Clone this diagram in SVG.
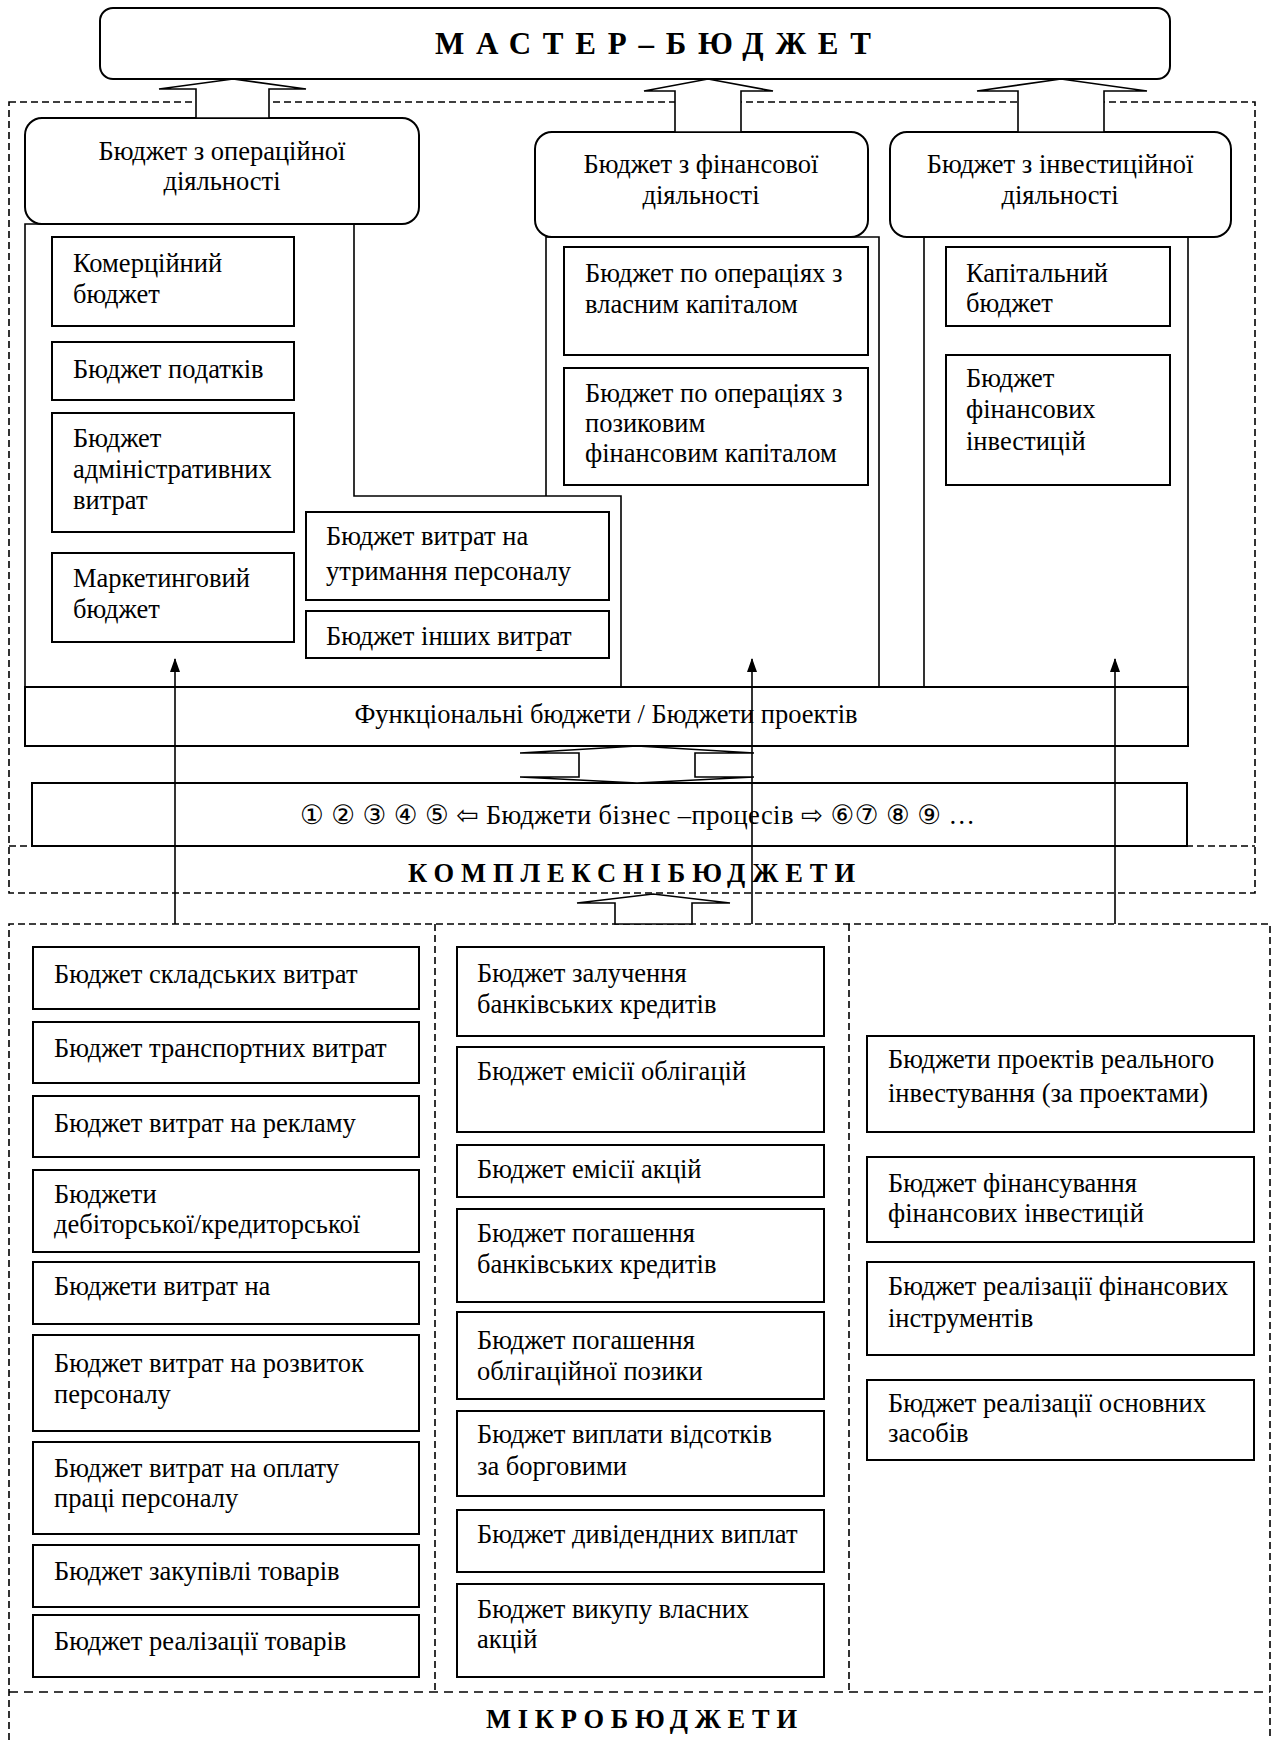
<svg xmlns="http://www.w3.org/2000/svg" width="1271" height="1740" viewBox="0 0 1271 1740">
<defs>
<style>
.box{fill:#fff;stroke:#000;stroke-width:2}
.sec{fill:none;stroke:#000;stroke-width:1.6}
.dash{fill:none;stroke:#000;stroke-width:1.6;stroke-dasharray:7 4}
.dash2{fill:none;stroke:#000;stroke-width:1.6;stroke-dasharray:9 6}
.harrow{fill:#fff;stroke:#000;stroke-width:1.6;stroke-linejoin:miter}
.thin{fill:none;stroke:#000;stroke-width:1.6}
text{font-family:"Liberation Serif","Times New Roman","DejaVu Serif",serif;font-size:26.5px;fill:#000}
.b{font-weight:bold}
.t{font-size:31px}
.c{text-anchor:middle}
.bp{font-family:"Liberation Serif","DejaVu Sans","Noto Sans",serif}
</style>
<marker id="ah" viewBox="0 0 14 10" refX="13" refY="5" markerWidth="14" markerHeight="10" markerUnits="userSpaceOnUse" orient="auto">
<path d="M0,0 L14,5 L0,10 z" fill="#000"/>
</marker>
</defs>
<rect width="1271" height="1740" fill="#fff"/>

<!-- containers -->
<g id="complex-container">
<rect class="dash" x="9" y="102" width="1246" height="791"/>
<line class="dash" x1="9" y1="846" x2="1255" y2="846"/>
<text class="b" x="408" y="882" textLength="447" lengthAdjust="spacing">КОМПЛЕКСНІБЮДЖЕТИ</text>
</g>
<g id="micro-container">
<path class="dash" d="M9,1740 V924 H1270 V1740"/>
<line class="dash" x1="435" y1="924" x2="435" y2="1692"/>
<line class="dash" x1="849" y1="924" x2="849" y2="1692"/>
<line class="dash2" x1="9" y1="1692" x2="1270" y2="1692"/>
<text class="b" x="486" y="1728" textLength="311" lengthAdjust="spacing">МІКРОБЮДЖЕТИ</text>
</g>

<!-- section frames -->
<g id="sections">
<path class="sec" d="M25,687 V224 H354 V496 H621 V687"/>
<path class="sec" d="M546,496 V237 H879 V687"/>
<path class="sec" d="M924,687 V237 H1188 V687"/>
</g>

<g id="master">
<rect class="box" x="100" y="8" width="1070" height="71" rx="13"/>
<text class="b t" x="435" y="54" textLength="436" lengthAdjust="spacing">МАСТЕР–БЮДЖЕТ</text>
</g>

<g id="op-budget">
<rect class="box" x="25" y="118" width="394" height="106" rx="17"/>
<text class="c" x="222" y="160">Бюджет з операційної</text>
<text class="c" x="222" y="190">діяльності</text>
</g>
<g id="fin-budget">
<rect class="box" x="535" y="132" width="333" height="105" rx="17"/>
<text class="c" x="701" y="173">Бюджет з фінансової</text>
<text class="c" x="701" y="204">діяльності</text>
</g>
<g id="inv-budget">
<rect class="box" x="890" y="132" width="341" height="105" rx="17"/>
<text class="c" x="1060" y="173">Бюджет з інвестиційної</text>
<text class="c" x="1060" y="204">діяльності</text>
</g>

<g id="commercial"><rect class="box" x="52" y="237" width="242" height="89"/><text x="73" y="272">Комерційний</text><text x="73" y="303">бюджет</text></g>
<g id="tax"><rect class="box" x="52" y="342" width="242" height="58"/><text x="73" y="378">Бюджет податків</text></g>
<g id="admin"><rect class="box" x="52" y="413" width="242" height="119"/><text x="73" y="447">Бюджет</text><text x="73" y="478">адміністративних</text><text x="73" y="509">витрат</text></g>
<g id="marketing"><rect class="box" x="52" y="553" width="242" height="89"/><text x="73" y="587">Маркетинговий</text><text x="73" y="618">бюджет</text></g>
<g id="staff"><rect class="box" x="306" y="512" width="303" height="88"/><text x="326" y="545">Бюджет витрат на</text><text x="326" y="580">утримання персоналу</text></g>
<g id="other"><rect class="box" x="306" y="611" width="303" height="47"/><text x="326" y="645">Бюджет інших витрат</text></g>

<g id="equity"><rect class="box" x="564" y="247" width="304" height="108"/><text x="585" y="282">Бюджет по операціях з</text><text x="585" y="313">власним капіталом</text></g>
<g id="debt"><rect class="box" x="564" y="368" width="304" height="117"/><text x="585" y="402">Бюджет по операціях з</text><text x="585" y="432">позиковим</text><text x="585" y="462">фінансовим капіталом</text></g>

<g id="capital"><rect class="box" x="946" y="247" width="224" height="79"/><text x="966" y="282">Капітальний</text><text x="966" y="312">бюджет</text></g>
<g id="fininv"><rect class="box" x="946" y="355" width="224" height="130"/><text x="966" y="387">Бюджет</text><text x="966" y="418">фінансових</text><text x="966" y="450">інвестицій</text></g>

<g id="functional"><rect class="box" x="25" y="687" width="1163" height="59"/><text class="c" x="606" y="723">Функціональні бюджети / Бюджети проектів</text></g>
<g id="business"><rect class="box" x="32" y="783" width="1155" height="63"/><text class="bp" x="300" y="824" textLength="675" lengthAdjust="spacing">① ② ③ ④ ⑤ ⇦ Бюджети бізнес –процесів ⇨ ⑥⑦ ⑧ ⑨ …</text></g>

<g id="m1-1"><rect class="box" x="33" y="947" width="386" height="62"/><text x="54" y="983">Бюджет складських витрат</text></g>
<g id="m1-2"><rect class="box" x="33" y="1022" width="386" height="61"/><text x="54" y="1057">Бюджет транспортних витрат</text></g>
<g id="m1-3"><rect class="box" x="33" y="1096" width="386" height="61"/><text x="54" y="1132">Бюджет витрат на рекламу</text></g>
<g id="m1-4"><rect class="box" x="33" y="1170" width="386" height="82"/><text x="54" y="1203">Бюджети</text><text x="54" y="1233">дебіторської/кредиторської</text></g>
<g id="m1-5"><rect class="box" x="33" y="1262" width="386" height="62"/><text x="54" y="1295">Бюджети витрат на</text></g>
<g id="m1-6"><rect class="box" x="33" y="1335" width="386" height="96"/><text x="54" y="1372">Бюджет витрат на розвиток</text><text x="54" y="1403">персоналу</text></g>
<g id="m1-7"><rect class="box" x="33" y="1442" width="386" height="92"/><text x="54" y="1477">Бюджет витрат на оплату</text><text x="54" y="1507">праці персоналу</text></g>
<g id="m1-8"><rect class="box" x="33" y="1545" width="386" height="62"/><text x="54" y="1580">Бюджет закупівлі товарів</text></g>
<g id="m1-9"><rect class="box" x="33" y="1615" width="386" height="62"/><text x="54" y="1650">Бюджет реалізації товарів</text></g>

<g id="m2-1"><rect class="box" x="457" y="947" width="367" height="89"/><text x="477" y="982">Бюджет залучення</text><text x="477" y="1013">банківських кредитів</text></g>
<g id="m2-2"><rect class="box" x="457" y="1047" width="367" height="85"/><text x="477" y="1080">Бюджет емісії облігацій</text></g>
<g id="m2-3"><rect class="box" x="457" y="1145" width="367" height="52"/><text x="477" y="1178">Бюджет емісії акцій</text></g>
<g id="m2-4"><rect class="box" x="457" y="1209" width="367" height="93"/><text x="477" y="1242">Бюджет погашення</text><text x="477" y="1273">банківських кредитів</text></g>
<g id="m2-5"><rect class="box" x="457" y="1312" width="367" height="87"/><text x="477" y="1349">Бюджет погашення</text><text x="477" y="1380">облігаційної позики</text></g>
<g id="m2-6"><rect class="box" x="457" y="1411" width="367" height="85"/><text x="477" y="1443">Бюджет виплати відсотків</text><text x="477" y="1475">за борговими</text></g>
<g id="m2-7"><rect class="box" x="457" y="1510" width="367" height="62"/><text x="477" y="1543">Бюджет дивідендних виплат</text></g>
<g id="m2-8"><rect class="box" x="457" y="1584" width="367" height="93"/><text x="477" y="1618">Бюджет викупу власних</text><text x="477" y="1648">акцій</text></g>

<g id="m3-1"><rect class="box" x="867" y="1036" width="387" height="96"/><text x="888" y="1068">Бюджети проектів реального</text><text x="888" y="1102">інвестування (за проектами)</text></g>
<g id="m3-2"><rect class="box" x="867" y="1157" width="387" height="85"/><text x="888" y="1192">Бюджет фінансування</text><text x="888" y="1222">фінансових інвестицій</text></g>
<g id="m3-3"><rect class="box" x="867" y="1262" width="387" height="93"/><text x="888" y="1295">Бюджет реалізації фінансових</text><text x="888" y="1327">інструментів</text></g>
<g id="m3-4"><rect class="box" x="867" y="1380" width="387" height="80"/><text x="888" y="1412">Бюджет реалізації основних</text><text x="888" y="1442">засобів</text></g>

<g id="connectors">
<polygon class="harrow" points="159,89 233,79 306,89 269,89 269,118 196,118 196,89"/>
<polygon class="harrow" points="644,91 708,79 773,91 741,91 741,132 675,132 675,91"/>
<polygon class="harrow" points="977,91 1061,79 1147,91 1104,91 1104,132 1018,132 1018,91"/>
<polygon class="harrow" points="637,746 754,753 695,753 695,777 754,777 637,783 520,777 579,777 579,753 520,753"/>
<polygon class="harrow" points="577,903 653,894 730,903 692,903 692,924 615,924 615,903"/>
<path class="thin" d="M175,924 V659" marker-end="url(#ah)"/>
<path class="thin" d="M752,924 V659" marker-end="url(#ah)"/>
<path class="thin" d="M1115,924 V659" marker-end="url(#ah)"/>
</g>
</svg>
